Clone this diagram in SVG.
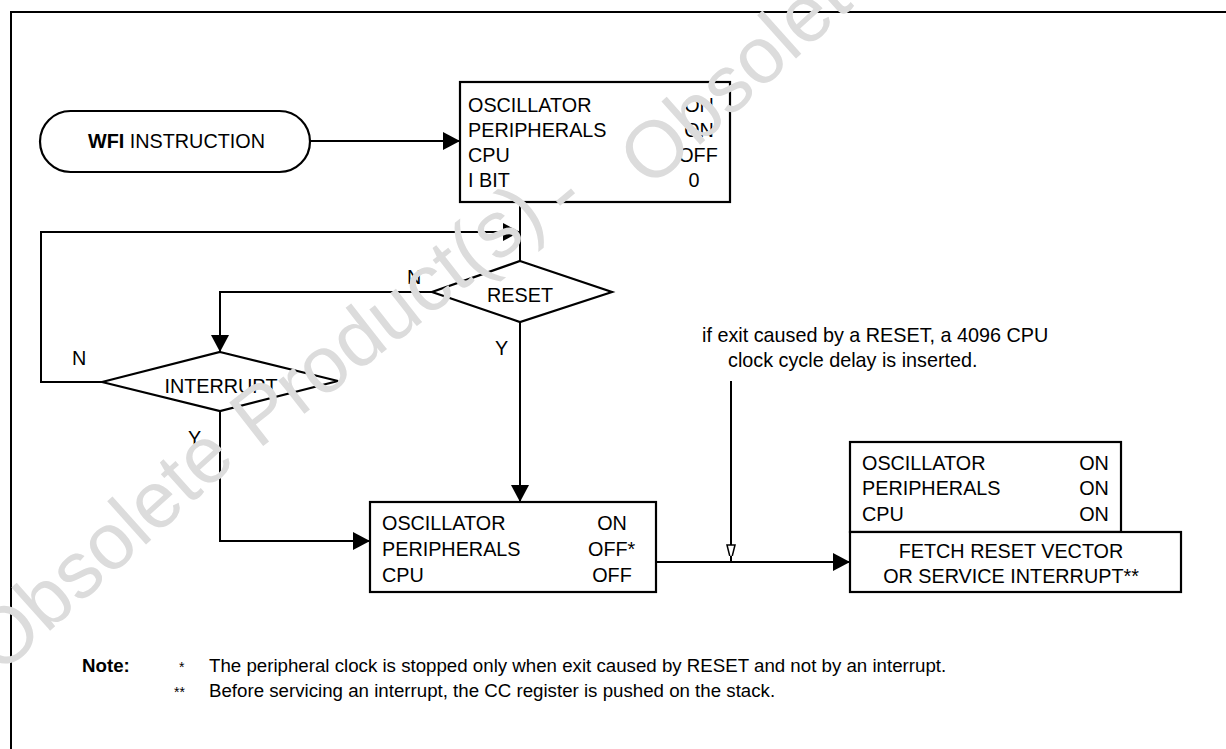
<svg xmlns="http://www.w3.org/2000/svg" width="1226" height="749" viewBox="0 0 1226 749">
<style>
text{font-family:"Liberation Sans",Arial,sans-serif;font-size:19.8px;fill:#000}
.b{font-weight:bold}
.m{text-anchor:middle}
.nt{font-size:18.7px}
.ln{fill:none;stroke:#000;stroke-width:2}
.bx{fill:#fff;stroke:#000;stroke-width:2.2}
.wm{font-family:"Liberation Sans",Arial,sans-serif;font-size:80px;fill:#dcdcdc}
</style>
<defs>
<marker id="ah" markerUnits="userSpaceOnUse" markerWidth="18" markerHeight="18" refX="17" refY="9" orient="auto">
<path d="M0,0 L17,9 L0,18 Z" fill="#000"/>
</marker>
<marker id="oh" markerUnits="userSpaceOnUse" markerWidth="12" markerHeight="20" refX="17" refY="5" orient="auto">
<path d="M1,1 L17,5 L1,9 Z" fill="#fff" stroke="#000" stroke-width="1.5"/>
</marker>
</defs>
<rect width="1226" height="749" fill="#fff"/>
<path class="ln" d="M11,760 V12 H1240"/>

<g id="connectors">
<path class="ln" d="M310,141 H460" marker-end="url(#ah)"/>
<path class="ln" d="M520,202 V261"/>
<path class="ln" d="M102,382 H41 V232 H520" marker-end="url(#ah)"/>
<path class="ln" d="M432,292 H220 V352" marker-end="url(#ah)"/>
<path class="ln" d="M520,322 V502" marker-end="url(#ah)"/>
<path class="ln" d="M220,411 V541 H370" marker-end="url(#ah)"/>
<path class="ln" d="M656,562 H850" marker-end="url(#ah)"/>
<path class="ln" d="M731,381 V561" marker-end="url(#oh)" stroke-width="1.8"/>
<text x="407" y="284">N</text>
<text x="495" y="355">Y</text>
<text x="72" y="365">N</text>
<text x="188" y="445">Y</text>
</g>

<g id="wfi">
<rect class="bx" x="40" y="111" width="270" height="61" rx="30.5" ry="30.5"/>
<text x="88" y="148"><tspan class="b">WFI</tspan> INSTRUCTION</text>
</g>

<g id="wait-state">
<rect class="bx" x="460" y="82" width="270" height="120"/>
<text x="468" y="112">OSCILLATOR</text>
<text x="468" y="137">PERIPHERALS</text>
<text x="468" y="162">CPU</text>
<text x="468" y="187">I BIT</text>
<text class="m" x="699" y="112">ON</text>
<text class="m" x="699" y="137">ON</text>
<text class="m" x="698" y="162">OFF</text>
<text class="m" x="694" y="187">0</text>
</g>

<g id="reset">
<path class="bx" d="M520,261 L612,292 L520,322 L432,292 Z"/>
<text class="m" x="520" y="302">RESET</text>
</g>

<g id="interrupt">
<path class="bx" d="M220,352 L338,381 L220,411 L102,382 Z"/>
<text class="m" x="221" y="393">INTERRUPT</text>
</g>

<g id="exit-state">
<rect class="bx" x="370" y="502" width="286" height="90"/>
<text x="382" y="530">OSCILLATOR</text>
<text x="382" y="556">PERIPHERALS</text>
<text x="382" y="582">CPU</text>
<text class="m" x="612" y="530">ON</text>
<text x="588" y="556">OFF*</text>
<text class="m" x="612" y="582">OFF</text>
</g>

<g id="delay-note">
<text x="702" y="342">if exit caused by a RESET, a 4096 CPU</text>
<text x="728" y="367">clock cycle delay is inserted.</text>
</g>

<g id="run-state">
<rect class="bx" x="850" y="442" width="271" height="90"/>
<text x="862" y="470">OSCILLATOR</text>
<text x="862" y="495">PERIPHERALS</text>
<text x="862" y="521">CPU</text>
<text class="m" x="1094" y="470">ON</text>
<text class="m" x="1094" y="495">ON</text>
<text class="m" x="1094" y="521">ON</text>
</g>

<g id="fetch">
<rect class="bx" x="850" y="532" width="331" height="60"/>
<text class="m" x="1011" y="558">FETCH RESET VECTOR</text>
<text class="m" x="1011" y="583">OR SERVICE INTERRUPT**</text>
</g>

<g id="notes">
<text class="b nt" x="82" y="672">Note:</text>
<text x="179" y="672" style="font-size:14px">*</text>
<text class="nt" x="209" y="672">The peripheral clock is stopped only when exit caused by RESET and not by an interrupt.</text>
<text x="174" y="697" style="font-size:14px">**</text>
<text class="nt" x="209" y="697">Before servicing an interrupt, the CC register is pushed on the stack.</text>
</g>

<g id="watermark">
<text class="wm" transform="translate(0,676) rotate(-42)">Obsolete</text>
<text class="wm" transform="translate(258,450) rotate(-38)">Product(s)</text>
<text class="wm" transform="translate(569,222) rotate(-40)">-</text>
<text class="wm" transform="translate(650,190) rotate(-42)">Obsolete</text>
</g>
</svg>
